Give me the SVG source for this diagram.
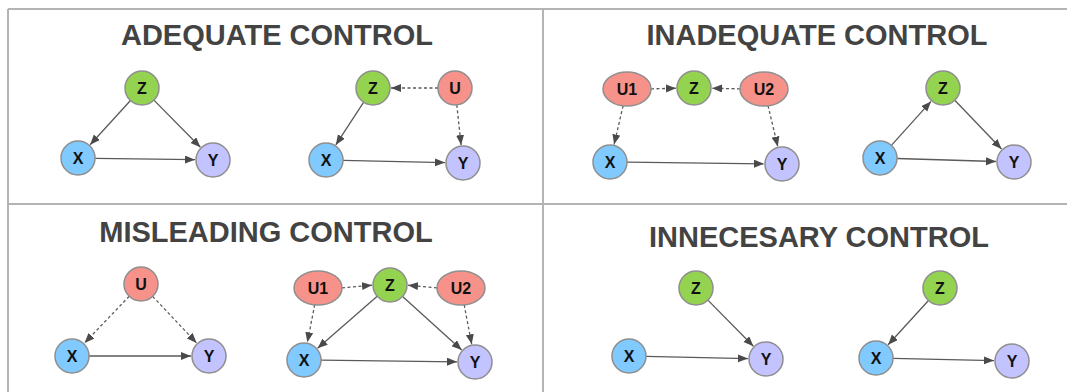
<svg xmlns="http://www.w3.org/2000/svg" width="1067" height="392" viewBox="0 0 1067 392">
<style>
.frame{stroke:#b4b4b4;stroke-width:2;fill:none}
.title{font-family:"Liberation Sans",Arial,sans-serif;font-weight:bold;font-size:29px;fill:#434343;text-anchor:middle}
.lbl{font-family:"Liberation Sans",Arial,sans-serif;font-weight:bold;font-size:16px;fill:#111;text-anchor:middle;dominant-baseline:central}
.n{stroke:#8f8f8f;stroke-width:1.5}
.z{fill:#93d350}
.x{fill:#80caff}
.y{fill:#c3c3ff}
.u{fill:#f6928a}
.e{stroke:#5a5a5a;stroke-width:1.3;fill:none;marker-end:url(#ah)}
.d{stroke-dasharray:3 2.5}
</style>
<defs>
<marker id="ah" markerUnits="userSpaceOnUse" markerWidth="11" markerHeight="9" refX="10" refY="4" orient="auto">
<path d="M0,0 L10,4 L0,8 z" fill="#4a4a4a"/>
</marker>
</defs>
<rect width="1067" height="392" fill="#fff"/>
<g id="frame">
<line class="frame" x1="8" y1="9" x2="1067" y2="9"/>
<line class="frame" x1="8" y1="9" x2="8" y2="392"/>
<line class="frame" x1="543" y1="9" x2="543" y2="392"/>
<line class="frame" x1="8" y1="204" x2="1067" y2="204"/>
</g>
<g id="titles">
<text class="title" x="277" y="45">ADEQUATE CONTROL</text>
<text class="title" x="817" y="45">INADEQUATE CONTROL</text>
<text class="title" x="266" y="242">MISLEADING CONTROL</text>
<text class="title" x="819" y="247">INNECESARY CONTROL</text>
</g>
<g id="connectors">
<line class="e" x1="130.5" y1="100.5" x2="90.1" y2="144.7"/>
<line class="e" x1="153.9" y1="100.1" x2="200.4" y2="147.2"/>
<line class="e" x1="95" y1="158.3" x2="195" y2="159.7"/>
<line class="e" x1="363.7" y1="102.2" x2="335.8" y2="144.9"/>
<line class="e d" x1="438" y1="88" x2="391" y2="88"/>
<line class="e d" x1="456.8" y1="104.9" x2="461.1" y2="145.1"/>
<line class="e" x1="343" y1="160.4" x2="445" y2="162.6"/>
<line class="e d" x1="651" y1="88.9" x2="676" y2="88.2"/>
<line class="e d" x1="740" y1="88.9" x2="712" y2="88.2"/>
<line class="e d" x1="623.1" y1="105.8" x2="614.1" y2="144.5"/>
<line class="e d" x1="768" y1="105.7" x2="777.8" y2="146.5"/>
<line class="e" x1="627" y1="162.2" x2="764" y2="163.8"/>
<line class="e" x1="891.4" y1="145.4" x2="931" y2="101.4"/>
<line class="e" x1="954.8" y1="100.3" x2="1001.5" y2="149"/>
<line class="e" x1="897" y1="158.5" x2="996" y2="161.5"/>
<line class="e d" x1="129.2" y1="296.3" x2="84.5" y2="343"/>
<line class="e d" x1="152.7" y1="296.4" x2="196.6" y2="342.9"/>
<line class="e" x1="89" y1="356" x2="191" y2="356"/>
<line class="e d" x1="342" y1="287.9" x2="372" y2="285.2"/>
<line class="e d" x1="437" y1="287.9" x2="408" y2="285.2"/>
<line class="e" x1="377.2" y1="296.2" x2="317.6" y2="348.2"/>
<line class="e" x1="402.6" y1="296.4" x2="461.7" y2="349.9"/>
<line class="e d" x1="314.7" y1="304.8" x2="307.4" y2="342.3"/>
<line class="e d" x1="464.2" y1="304.9" x2="471.7" y2="344.3"/>
<line class="e" x1="321" y1="360.2" x2="457" y2="361.8"/>
<line class="e" x1="707.9" y1="300.1" x2="753.4" y2="346.2"/>
<line class="e" x1="646" y1="356.4" x2="748" y2="358.6"/>
<line class="e" x1="928.5" y1="300.5" x2="888.1" y2="344.7"/>
<line class="e" x1="893" y1="358.4" x2="994" y2="360.6"/>
</g>
<g id="p1a-Z"><circle class="n z" cx="142" cy="88" r="17"/><text class="lbl" x="142" y="88">Z</text></g>
<g id="p1a-X"><circle class="n x" cx="78" cy="158" r="17"/><text class="lbl" x="78" y="158">X</text></g>
<g id="p1a-Y"><circle class="n y" cx="213" cy="160" r="17"/><text class="lbl" x="213" y="160">Y</text></g>
<g id="p1b-Z"><circle class="n z" cx="373" cy="88" r="17"/><text class="lbl" x="373" y="88">Z</text></g>
<g id="p1b-U"><circle class="n u" cx="455" cy="88" r="17"/><text class="lbl" x="455" y="88">U</text></g>
<g id="p1b-X"><circle class="n x" cx="326" cy="160" r="17"/><text class="lbl" x="326" y="160">X</text></g>
<g id="p1b-Y"><circle class="n y" cx="463" cy="163" r="17"/><text class="lbl" x="463" y="163">Y</text></g>
<g id="p2a-U1"><ellipse class="n u" cx="627" cy="89" rx="24" ry="17"/><text class="lbl" x="627" y="89">U1</text></g>
<g id="p2a-Z"><circle class="n z" cx="694" cy="88" r="17"/><text class="lbl" x="694" y="88">Z</text></g>
<g id="p2a-U2"><ellipse class="n u" cx="764" cy="89" rx="24" ry="17"/><text class="lbl" x="764" y="89">U2</text></g>
<g id="p2a-X"><circle class="n x" cx="610" cy="162" r="17"/><text class="lbl" x="610" y="162">X</text></g>
<g id="p2a-Y"><circle class="n y" cx="782" cy="164" r="17"/><text class="lbl" x="782" y="164">Y</text></g>
<g id="p2b-Z"><circle class="n z" cx="943" cy="88" r="17"/><text class="lbl" x="943" y="88">Z</text></g>
<g id="p2b-X"><circle class="n x" cx="880" cy="158" r="17"/><text class="lbl" x="880" y="158">X</text></g>
<g id="p2b-Y"><circle class="n y" cx="1014" cy="162" r="17"/><text class="lbl" x="1014" y="162">Y</text></g>
<g id="p3a-U"><circle class="n u" cx="141" cy="284" r="17"/><text class="lbl" x="141" y="284">U</text></g>
<g id="p3a-X"><circle class="n x" cx="72" cy="356" r="17"/><text class="lbl" x="72" y="356">X</text></g>
<g id="p3a-Y"><circle class="n y" cx="209" cy="356" r="17"/><text class="lbl" x="209" y="356">Y</text></g>
<g id="p3b-U1"><ellipse class="n u" cx="318" cy="288" rx="24" ry="17"/><text class="lbl" x="318" y="288">U1</text></g>
<g id="p3b-Z"><circle class="n z" cx="390" cy="285" r="17"/><text class="lbl" x="390" y="285">Z</text></g>
<g id="p3b-U2"><ellipse class="n u" cx="461" cy="288" rx="24" ry="17"/><text class="lbl" x="461" y="288">U2</text></g>
<g id="p3b-X"><circle class="n x" cx="304" cy="360" r="17"/><text class="lbl" x="304" y="360">X</text></g>
<g id="p3b-Y"><circle class="n y" cx="475" cy="362" r="17"/><text class="lbl" x="475" y="362">Y</text></g>
<g id="p4a-Z"><circle class="n z" cx="696" cy="288" r="17"/><text class="lbl" x="696" y="288">Z</text></g>
<g id="p4a-X"><circle class="n x" cx="629" cy="356" r="17"/><text class="lbl" x="629" y="356">X</text></g>
<g id="p4a-Y"><circle class="n y" cx="766" cy="359" r="17"/><text class="lbl" x="766" y="359">Y</text></g>
<g id="p4b-Z"><circle class="n z" cx="940" cy="288" r="17"/><text class="lbl" x="940" y="288">Z</text></g>
<g id="p4b-X"><circle class="n x" cx="876" cy="358" r="17"/><text class="lbl" x="876" y="358">X</text></g>
<g id="p4b-Y"><circle class="n y" cx="1012" cy="361" r="17"/><text class="lbl" x="1012" y="361">Y</text></g>
</svg>
